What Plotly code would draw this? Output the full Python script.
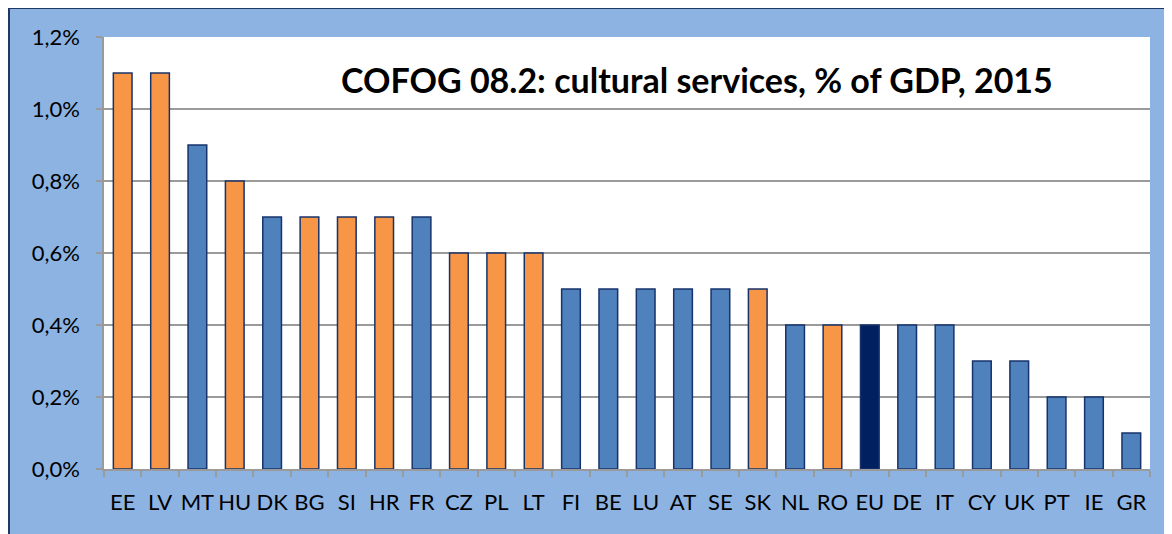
import plotly.graph_objects as go

# Data
countries = ["EE", "LV", "MT", "HU", "DK", "BG", "SI", "HR", "FR", "CZ", "PL", "LT",
             "FI", "BE", "LU", "AT", "SE", "SK", "NL", "RO", "EU", "DE", "IT", "CY",
             "UK", "PT", "IE", "GR"]
share_gdp = [1.1, 1.1, 0.9, 0.8, 0.7, 0.7, 0.7, 0.7, 0.7, 0.6, 0.6, 0.6,
             0.5, 0.5, 0.5, 0.5, 0.5, 0.5, 0.4, 0.4, 0.4, 0.4, 0.4, 0.3,
             0.3, 0.2, 0.2, 0.1]
highlight = ["EE", "LV", "HU", "BG", "SI", "HR", "CZ", "PL", "LT", "SK", "RO"]

ORANGE = "#F79646"
BLUE = "#4F81BD"
NAVY = "#002060"
EDGE = "#17336B"
BG = "#8DB3E2"

colors = []
for c in countries:
    if c == "EU":
        colors.append(NAVY)
    elif c in highlight:
        colors.append(ORANGE)
    else:
        colors.append(BLUE)

# page body adds an 8px margin, so the figure is a bit smaller than the window
W, H = 1164, 526
L, R, T, B = 96, 22, 29, 65
pw, ph = W - L - R, H - T - B


def px_x(x):
    return (x - L) / pw


def px_y(y):
    return (H - B - y) / ph


fig = go.Figure()
fig.add_trace(go.Bar(
    x=countries, y=share_gdp,
    marker=dict(color=colors, line=dict(color=EDGE, width=1.5)),
    showlegend=False,
))

font = "Lato, 'Open Sans', sans-serif"

fig.update_layout(
    width=W, height=H,
    margin=dict(l=L, r=R, t=T, b=B, autoexpand=False),
    paper_bgcolor=BG,
    plot_bgcolor="white",
    bargap=0.5,
    separators=", ",
    font=dict(family=font, size=22, color="black"),
    shapes=[
        # dark frame edge on the left and top
        dict(type="line", xref="paper", yref="paper",
             x0=px_x(1), x1=px_x(1), y0=px_y(0), y1=px_y(H + 5),
             line=dict(color="#1F3864", width=2)),
        dict(type="line", xref="paper", yref="paper",
             x0=px_x(0), x1=px_x(W + 5), y0=px_y(0), y1=px_y(0),
             line=dict(color="#1F3864", width=2)),
    ],
    annotations=[
        dict(text="<b>COFOG 08.2: cultural services, % of GDP, 2015</b>",
             xref="paper", yref="paper", x=px_x(689), y=px_y(71),
             xanchor="center", yanchor="middle", showarrow=False,
             font=dict(family=font, size=34, color="black")),
    ],
)

fig.update_xaxes(
    type="category", tickangle=0, automargin=False,
    tickfont=dict(size=22),
    showline=True, linecolor="#9A9A9A", linewidth=1.5,
    ticks="outside", tickson="boundaries", ticklen=6, tickcolor="#9A9A9A",
    tickwidth=1.5, ticklabelstandoff=13,
    showgrid=False,
)
fig.update_yaxes(
    range=[0, 1.2], dtick=0.2, tickformat=".1f", ticksuffix="%",
    automargin=False, tickfont=dict(size=22),
    showline=True, linecolor="#9A9A9A", linewidth=1.5,
    ticks="outside", ticklen=6, tickcolor="#9A9A9A", tickwidth=1.5,
    ticklabelstandoff=12,
    showgrid=True, gridcolor="#9A9A9A", gridwidth=1.5,
    zeroline=False,
)

fig.write_html("out.html")
